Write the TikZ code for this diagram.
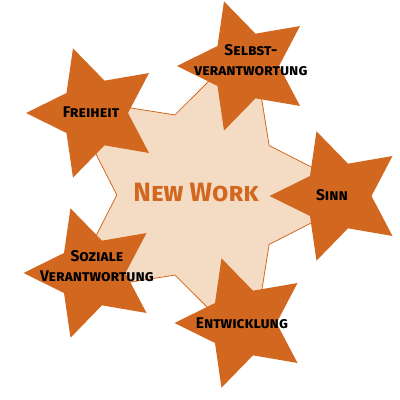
\documentclass[tikz,border=0pt]{standalone}
\usepackage{fontspec}
\setsansfont{Fira Sans}
\usetikzlibrary{shapes.geometric}
\definecolor{rust}{RGB}{210,104,32}
\definecolor{peach}{RGB}{244,220,196}

\begin{document}
\begin{tikzpicture}[x=1pt,y=-1pt,
    big star/.style={star,star points=5,star point ratio=1.96,shape border rotate=270,
      minimum size=330pt,inner sep=0pt,draw=rust,line width=0.8pt,fill=peach},
    small star/.style={star,star points=5,star point ratio=2,shape border rotate=90,
      minimum size=136pt,inner sep=0pt,fill=rust},
    star text/.style={align=center,inner sep=0pt,
      font=\sffamily\bfseries\scshape\fontsize{15.5}{20}\selectfont}]

  \useasboundingbox (0,0) rectangle (400,400);

  \node[big star] (nw) at (201,195) {};

  \node[small star] (selbst) at (245,66) {};
  \node[small star] (freiheit) at (94,113) {};
  \node[small star] (sinn) at (337.5,196) {};
  \node[small star] (sozial) at (91.5,273) {};
  \node[small star] (entw) at (242.5,323) {};

  \node[star text,text=rust,font=\sffamily\bfseries\scshape\fontsize{26.5}{30}\selectfont]
    at (196,193) {New Work};
  \node[star text] at (251,60) {Selbst-\\verantwortung};
  \node[star text] at (91,112) {Freiheit};
  \node[star text] at (332,195) {Sinn};
  \node[star text] at (97,266) {Soziale\\Verantwortung};
  \node[star text] at (242,323) {Entwicklung};
\end{tikzpicture}
\end{document}
